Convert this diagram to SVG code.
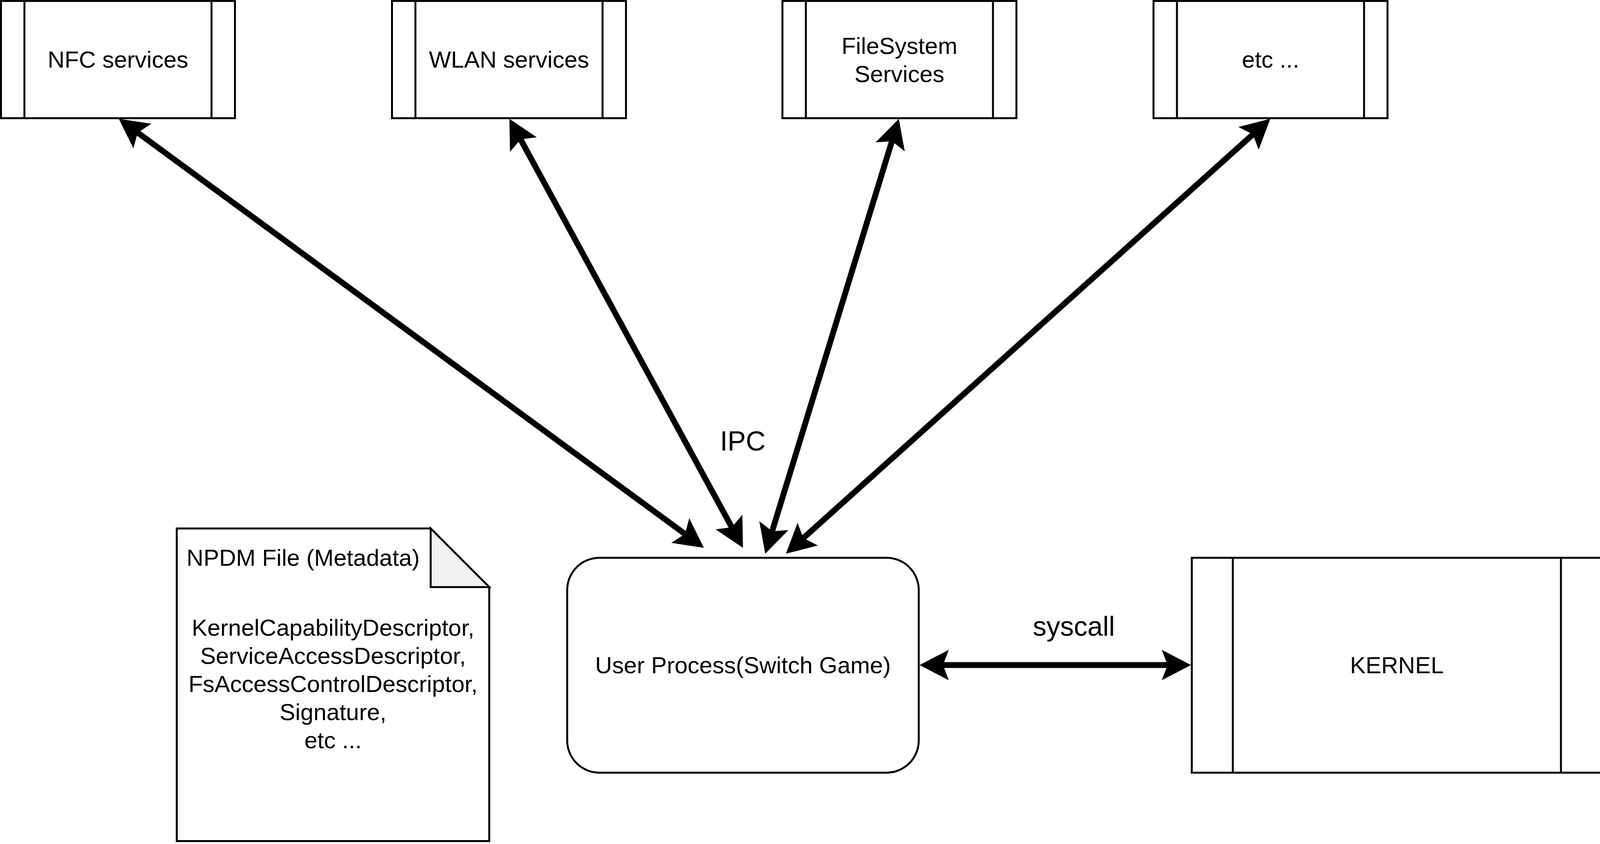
<svg xmlns="http://www.w3.org/2000/svg" width="4105" height="2160" viewBox="0 0 4105 2160">
<style>
.box{fill:#ffffff;stroke:#000000;stroke-width:5}
.ln{fill:none;stroke:#000000;stroke-width:5}
.fold{fill:#f1f1f1;stroke:#000000;stroke-width:5;stroke-linejoin:miter}
.t{font-family:"Liberation Sans",Arial,sans-serif;font-size:60px;fill:#000000;text-anchor:middle}
.lbl{font-family:"Liberation Sans",Arial,sans-serif;font-size:70px;fill:#000000;text-anchor:middle}
.edge{fill:none;stroke:#000000;stroke-width:15;marker-start:url(#ah);marker-end:url(#ah)}
</style>
<defs>
<marker id="ah" markerUnits="userSpaceOnUse" markerWidth="80" markerHeight="80" refX="20" refY="39" orient="auto-start-reverse" overflow="visible">
<path d="M0,0 L75,39 L0,78 L15,39 Z" fill="#000000"/>
</marker>
</defs>
<rect x="0" y="0" width="4105" height="2160" fill="#ffffff"/>

<g id="nfc">
<rect class="box" x="2.5" y="2.5" width="599" height="300"/>
<line class="ln" x1="62.5" y1="2.5" x2="62.5" y2="302.5"/>
<line class="ln" x1="541.5" y1="2.5" x2="541.5" y2="302.5"/>
<text class="t" x="302" y="173">NFC services</text>
</g>

<g id="wlan">
<rect class="box" x="1003.5" y="2.5" width="599" height="300"/>
<line class="ln" x1="1063.5" y1="2.5" x2="1063.5" y2="302.5"/>
<line class="ln" x1="1542.5" y1="2.5" x2="1542.5" y2="302.5"/>
<text class="t" x="1303" y="173">WLAN services</text>
</g>

<g id="filesystem">
<rect class="box" x="2003" y="2.5" width="599" height="300"/>
<line class="ln" x1="2063" y1="2.5" x2="2063" y2="302.5"/>
<line class="ln" x1="2542" y1="2.5" x2="2542" y2="302.5"/>
<text class="t" x="2302.5" y="138">FileSystem</text>
<text class="t" x="2302.5" y="210">Services</text>
</g>

<g id="etc">
<rect class="box" x="2953" y="2.5" width="599" height="300"/>
<line class="ln" x1="3013" y1="2.5" x2="3013" y2="302.5"/>
<line class="ln" x1="3492" y1="2.5" x2="3492" y2="302.5"/>
<text class="t" x="3252.5" y="173">etc ...</text>
</g>

<g id="npdm">
<path class="box" d="M452.5,1352.5 H1102.5 L1252.5,1502.5 V2152.5 H452.5 Z"/>
<path class="fold" d="M1102.5,1352.5 V1502.5 H1252.5 Z"/>
<text class="t" x="776" y="1448">NPDM File (Metadata)</text>
<text class="t" x="852.5" y="1627">KernelCapabilityDescriptor,</text>
<text class="t" x="852.5" y="1699">ServiceAccessDescriptor,</text>
<text class="t" x="852.5" y="1771">FsAccessControlDescriptor,</text>
<text class="t" x="852.5" y="1843">Signature,</text>
<text class="t" x="852.5" y="1915">etc ...</text>
</g>

<g id="userprocess">
<rect class="box" x="1452" y="1427.5" width="900" height="550" rx="82.5" ry="82.5"/>
<text class="t" x="1902" y="1723">User Process(Switch Game)</text>
</g>

<g id="kernel">
<rect class="box" x="3051" y="1427.5" width="1049" height="550"/>
<line class="ln" x1="3156" y1="1427.5" x2="3156" y2="1977.5"/>
<line class="ln" x1="3996" y1="1427.5" x2="3996" y2="1977.5"/>
<text class="t" x="3576" y="1723">KERNEL</text>
</g>

<g id="connectors">
<line class="edge" x1="348.4" y1="336.5" x2="1757.6" y2="1369.5"/>
<line class="edge" x1="1330.3" y1="352.3" x2="1875.7" y2="1353.7"/>
<line class="edge" x1="2284.8" y1="356.6" x2="1975.2" y2="1364.4"/>
<line class="edge" x1="3211.1" y1="340.7" x2="2052.9" y2="1380.3"/>
<line class="edge" x1="2409" y1="1702" x2="2994" y2="1702"/>
<text class="lbl" x="1901.5" y="1153">IPC</text>
<text class="lbl" x="2749" y="1627">syscall</text>
</g>
</svg>
